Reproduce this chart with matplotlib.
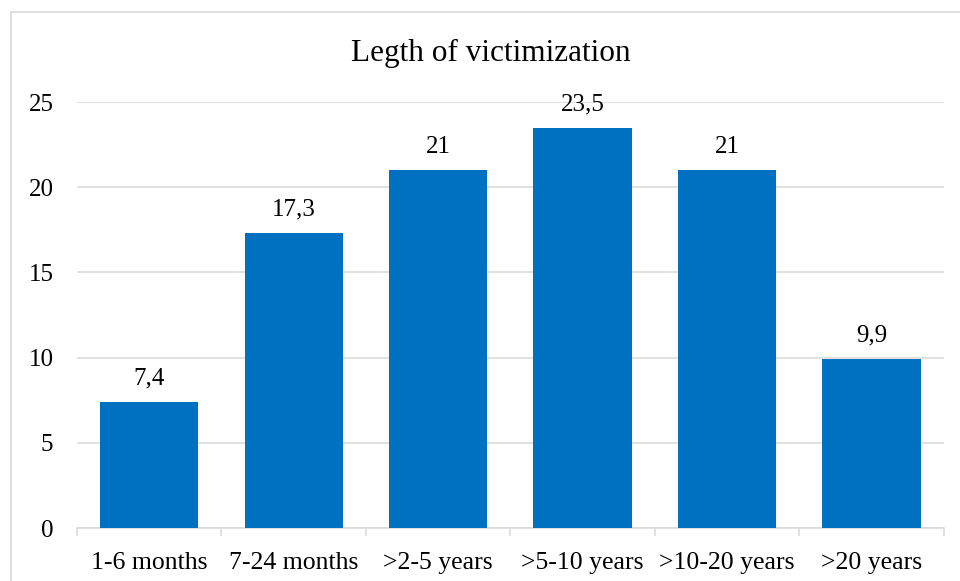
'''
Bar chart: length of victimization.
'''

import numpy as np
import matplotlib.pyplot as plt
from matplotlib.patches import Rectangle

categories = ['1-6 months', '7-24 months', '>2-5 years', '>5-10 years',
              '>10-20 years', '>20 years']
values = [7.4, 17.3, 21, 23.5, 21, 9.9]
labels = ['7,4', '17,3', '21', '23,5', '21', '9,9']

plt.rcParams['font.family'] = ['Liberation Serif', 'DejaVu Serif']

fig = plt.figure(figsize=(9.6, 5.81), dpi=100)
ax = fig.add_axes([0.0802, 0.0912, 0.9028, 0.7332])

# chart frame, cut off on the right and bottom like the screenshot
fig.patches.append(Rectangle((10.5 / 960, -0.05), 1.0, 1.05 - 12.5 / 581,
                             transform=fig.transFigure, fill=False,
                             edgecolor='#d9d9d9', linewidth=1.2))

x = np.arange(len(categories))
ax.bar(x, values, width=0.68, color='#0070c0', zorder=3)

for xi, v, lab in zip(x, values, labels):
    ax.annotate(lab, (xi, v), xytext=(0, 9), textcoords='offset points',
                ha='center', va='bottom', fontsize=18)

ax.set_xlim(-0.5, len(categories) - 0.5)
ax.set_ylim(0, 25)
ax.set_yticks(np.arange(0, 26, 5))
ax.yaxis.grid(True, color='#d9d9d9', linewidth=1.1, zorder=0)
ax.set_axisbelow(True)

ax.set_xticks(x)
ax.set_xticklabels(categories)
ax.set_xticks(np.arange(-0.5, len(categories), 1.0), minor=True)
ax.tick_params(axis='x', which='major', length=0, pad=17, labelsize=18.5)
ax.tick_params(axis='x', which='minor', length=6, color='#d9d9d9', width=1.1)
ax.tick_params(axis='y', length=0, pad=17, labelsize=18)

for side in ['top', 'right', 'left']:
    ax.spines[side].set_visible(False)
ax.spines['bottom'].set_color('#d9d9d9')
ax.spines['bottom'].set_linewidth(1.1)

fig.text(0.511, 0.908, 'Legth of victimization', ha='center', va='center',
         fontsize=22.5)

fig.savefig('out.png', dpi=100)
